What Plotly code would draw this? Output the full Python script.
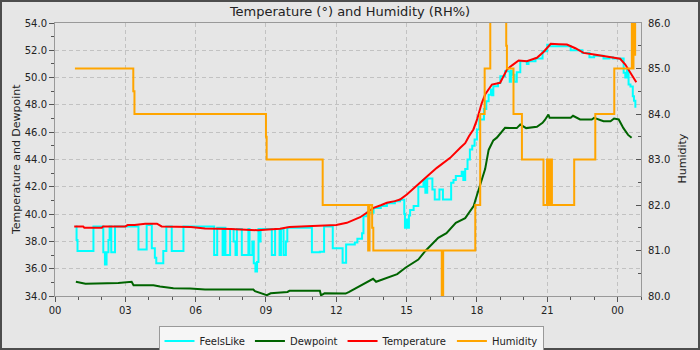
import pandas as pd
import plotly.graph_objects as go

# ---- data (hours after midnight, values) ----
temp_hours = [0.82, 1.2, 1.25, 2.0, 2.05, 2.7, 3.0, 3.1, 3.4, 3.85, 4.35, 4.55, 5.0, 5.8, 6.1, 6.4,
              7.5, 8.3, 8.66, 9.1, 9.6, 10.0, 10.5, 11.3, 11.6, 12.0, 12.45, 12.8, 13.02, 13.3,
              13.59, 13.9, 14.16, 14.5, 14.72, 15.01, 15.3, 15.72, 16.0, 16.29, 16.6, 16.86,
              17.29, 17.5, 17.66, 17.85, 18.0, 18.2, 18.35, 18.64, 18.99, 19.28, 19.5, 19.78,
              20.13, 20.56, 20.85, 21.15, 21.5, 21.84, 22.2, 22.55, 23.0, 23.4, 23.8, 24.11,
              24.33, 24.54, 24.8]
temp_vals = [39.1, 39.1, 39.0, 39.0, 39.1, 39.1, 39.1, 39.2, 39.2, 39.3, 39.3, 39.1, 39.1, 39.05,
             39.0, 38.95, 38.9, 38.85, 38.82, 38.87, 38.93, 39.05, 39.1, 39.15, 39.2, 39.2, 39.36,
             39.6, 39.77, 40.1, 40.46, 40.65, 40.83, 40.95, 41.07, 41.44, 41.9, 42.53, 42.95,
             43.39, 43.8, 44.12, 44.86, 45.2, 45.7, 46.2, 46.9, 48.1, 48.76, 49.49, 49.62, 50.59,
             50.9, 51.25, 51.2, 51.45, 51.9, 52.48, 52.45, 52.42, 52.15, 51.81, 51.7, 51.57,
             51.45, 51.38, 50.96, 50.35, 49.66]

feels_hours = [0.89, 0.92, 0.96, 1.64, 2.06, 2.13, 2.2, 2.28, 2.33, 2.4, 2.56, 3.56, 3.91, 4.13,
               4.26, 4.32, 4.62, 4.75, 4.98, 5.48, 6.79, 6.92, 7.15, 7.22, 7.27, 7.47, 7.62, 7.7,
               7.76, 7.97, 8.25, 8.3, 8.42, 8.48, 8.55, 8.62, 8.68, 8.72, 8.77, 9.25, 9.39, 9.58,
               9.64, 9.75, 9.85, 9.91, 10.96, 11.3, 11.48, 11.85, 12.27, 12.42, 12.79, 12.9, 13.1,
               13.16, 13.3, 13.59, 13.9, 14.16, 14.5, 14.72, 14.9, 14.93, 15.0, 15.05, 15.1, 15.15,
               15.3, 15.5, 15.72, 15.8, 15.88, 16.1, 16.2, 16.4, 16.55, 16.9, 17.0, 17.1, 17.35,
               17.42, 17.5, 17.6, 17.7, 17.8, 17.9, 18.0, 18.1, 18.3, 18.4, 18.5, 18.6, 18.65,
               18.7, 18.9, 19.0, 19.2, 19.4, 19.45, 19.5, 19.6, 19.7, 19.85, 20.13, 20.2, 20.5,
               20.8, 21.0, 21.1, 21.9, 22.0, 22.5, 22.8, 23.0, 23.4, 23.65, 23.8, 24.1, 24.26,
               24.33, 24.4, 24.47, 24.55, 24.65, 24.7, 24.76]
feels_vals = [39.1, 38.1, 37.3, 39.1, 37.2, 36.3, 37.2, 38.1, 39.1, 37.2, 39.1, 37.4, 39.2, 37.5,
              36.8, 36.4, 37.3, 39.1, 37.3, 39.1, 37.0, 39.0, 37.0, 39.0, 37.0, 38.9, 38.0, 37.0,
              38.9, 37.0, 38.9, 37.0, 38.0, 36.4, 35.8, 36.5, 38.9, 38.0, 38.9, 37.0, 38.9, 37.0,
              38.9, 37.0, 38.0, 39.0, 37.2, 37.25, 39.1, 37.5, 36.43, 37.77, 37.92, 38.2, 38.6,
              39.85, 40.1, 40.45, 40.6, 40.8, 40.95, 41.05, 40.0, 39.0, 39.6, 39.0, 39.9, 40.3,
              40.6, 42.0, 42.5, 41.56, 42.6, 41.8, 41.07, 41.8, 41.07, 42.3, 42.5, 42.8, 43.1,
              42.5, 43.3, 44.0, 44.73, 45.0, 45.47, 46.2, 46.93, 47.7, 48.27, 48.75, 49.13, 48.7,
              49.37, 49.6, 50.1, 50.47, 49.7, 50.5, 50.2, 49.7, 50.4, 51.2, 51.0, 51.2, 51.4,
              51.93, 52.4, 52.3, 52.3, 52.0, 51.8, 51.5, 51.6, 51.4, 51.5, 51.4, 51.4, 50.35,
              50.0, 50.6, 49.5, 49.35, 48.64, 48.3, 47.79]

dew_hours = [0.89, 1.3, 2.7, 3.27, 3.35, 4.2, 4.48, 5.05, 5.76, 6.4, 8.46, 8.53, 9.04, 9.2, 9.92,
             10.0, 11.3, 11.35, 11.5, 12.4, 12.55, 13.1, 13.4, 13.57, 13.7, 14.16, 14.6, 14.95,
             15.5, 15.8, 16.35, 16.7, 17.1, 17.5, 17.7, 17.86, 17.93, 18.07, 18.2, 18.35, 18.5,
             18.7, 18.85, 19.0, 19.2, 19.7, 19.85, 20.1, 20.56, 20.8, 20.9, 21.05, 21.1, 22.0,
             22.1, 22.4, 22.9, 23.0, 23.4, 23.7, 23.85, 24.05, 24.25, 24.45, 24.6]
dew_vals = [35.04, 34.9, 34.96, 35.04, 34.79, 34.79, 34.7, 34.57, 34.55, 34.48, 34.48, 34.35,
            34.06, 34.2, 34.3, 34.38, 34.38, 34.05, 34.2, 34.18, 34.3, 34.8, 35.1, 35.26, 35.04,
            35.3, 35.6, 36.07, 36.67, 37.3, 38.26, 38.6, 39.36, 39.7, 40.2, 40.58, 41.0, 41.8,
            42.5, 43.3, 44.7, 45.4, 45.6, 45.9, 46.32, 46.3, 46.56, 46.3, 46.4, 46.69, 46.9,
            47.3, 47.05, 47.05, 47.2, 46.93, 46.93, 47.05, 46.8, 46.8, 47.0, 46.93, 46.3, 45.8,
            45.59]

hum_hours = [0.85, 3.34, 3.39, 9.0, 9.03, 11.42, 13.36, 13.42, 13.53, 13.58, 16.5, 16.56, 17.93,
             18.14, 18.33, 18.57, 19.25, 19.28, 19.56, 19.92, 20.84, 20.99, 21.05, 21.12, 21.2,
             22.15, 23.05, 23.86, 24.61, 24.65, 24.68, 24.72, 24.75, 24.78]
hum_vals = [85.0, 84.5, 84.0, 83.5, 83.0, 82.0, 81.0, 82.0, 81.5, 81.0, 80.0, 81.0, 82.0,
            84.0, 85.0, 87.0, 85.5, 85.0, 84.0, 83.0, 82.0, 83.0, 82.0, 83.0, 82.0,
            83.0, 84.0, 85.0, 87.0, 85.0, 87.0, 85.3, 87.0, 87.0]

x_tick_labels = ["00", "03", "06", "09", "12", "15", "18", "21", "00"]

base = pd.Timestamp("2024-01-01 00:00")


def to_time(hours):
    return base + pd.to_timedelta(hours, unit="h")


FONT = "DejaVu Sans"
fig = go.Figure()
fig.add_trace(go.Scatter(x=to_time(feels_hours), y=feels_vals, name="FeelsLike", mode="lines",
                         line=dict(color="#00ffff", width=2, shape="hv")))
fig.add_trace(go.Scatter(x=to_time(dew_hours), y=dew_vals, name="Dewpoint", mode="lines",
                         line=dict(color="#006400", width=2)))
fig.add_trace(go.Scatter(x=to_time(temp_hours), y=temp_vals, name="Temperature", mode="lines",
                         line=dict(color="#ff0000", width=2)))
fig.add_trace(go.Scatter(x=to_time(hum_hours), y=hum_vals, name="Humidity", mode="lines",
                         yaxis="y2", line=dict(color="#ffa500", width=2, shape="hv")))

tickvals = [base + pd.Timedelta(hours=3 * i) for i in range(len(x_tick_labels))]

L, R, T, B = 55, 59, 23, 54
W, H = 700, 350
pw, ph = W - L - R, H - T - B

grid = dict(showgrid=True, gridcolor="#c2c2c2", griddash="4px,3px", gridwidth=1)

fig.update_layout(
    width=W, height=H,
    margin=dict(l=L, r=R, t=T, b=B, pad=0, autoexpand=False),
    paper_bgcolor="#e6e6e6", plot_bgcolor="#e6e6e6",
    font=dict(family=FONT, size=10, color="#222"),
    title=dict(text="Temperature (°) and Humidity (RH%)", x=0.5, xref="container", xanchor="center",
               y=1 - 11 / H, yref="container", yanchor="middle", font=dict(size=13, color="#222")),
    xaxis=dict(range=[base, base + pd.Timedelta(hours=25)], type="date",
               tickmode="array", tickvals=tickvals, ticktext=x_tick_labels,
               ticks="outside", ticklen=5, tickcolor="#555",
               minor=dict(dtick=3600000, tick0=base, ticks="outside", ticklen=3, tickcolor="#555",
                          showgrid=False),
               showline=True, linecolor="#999", mirror=True, zeroline=False, automargin=False,
               tickfont=dict(size=10), **grid),
    yaxis=dict(range=[34, 54], dtick=2, tick0=34, tickformat=".1f", ticks="outside", ticklen=5,
               tickcolor="#555",
               minor=dict(dtick=1, ticks="outside", ticklen=3, tickcolor="#555", showgrid=False),
               showline=True, linecolor="#999", mirror=True, zeroline=False, automargin=False,
               tickfont=dict(size=10), **grid),
    yaxis2=dict(range=[80, 86], dtick=1, tick0=80, tickformat=".1f", overlaying="y", side="right",
                ticks="inside", ticklen=5, tickcolor="#555", ticklabelstandoff=4,
                minor=dict(dtick=0.5, ticks="inside", ticklen=3, tickcolor="#555", showgrid=False),
                showline=True, linecolor="#999", showgrid=False, zeroline=False, automargin=False,
                tickfont=dict(size=10)),
    legend=dict(orientation="h", xref="paper", x=(351 - L) / pw, xanchor="center",
                yref="container", y=1 - 325.5 / H, yanchor="top",
                bgcolor="#f6f6f6", bordercolor="#999", borderwidth=1, font=dict(size=10),
                itemwidth=30, tracegroupgap=0),
    showlegend=True,
)

fig.add_annotation(text="Temperature and Dewpoint", xref="paper", yref="paper",
                   x=(16.5 - L) / pw, y=0.5, xanchor="center", yanchor="middle",
                   textangle=-90, showarrow=False, font=dict(size=11, color="#222"))
fig.add_annotation(text="Humidity", xref="paper", yref="paper",
                   x=(681.5 - L) / pw, y=(T + ph - 159) / ph, xanchor="center", yanchor="middle",
                   textangle=-90, showarrow=False, font=dict(size=11, color="#222"))

# outer frame of the image
fig.add_shape(type="rect", xref="paper", yref="paper",
              x0=-L / pw, x1=(W - L) / pw, y0=-B / ph, y1=(H - B) / ph,
              line=dict(color="#4d4d4d", width=4), fillcolor="rgba(0,0,0,0)", layer="above")

fig.write_html("out.html")
